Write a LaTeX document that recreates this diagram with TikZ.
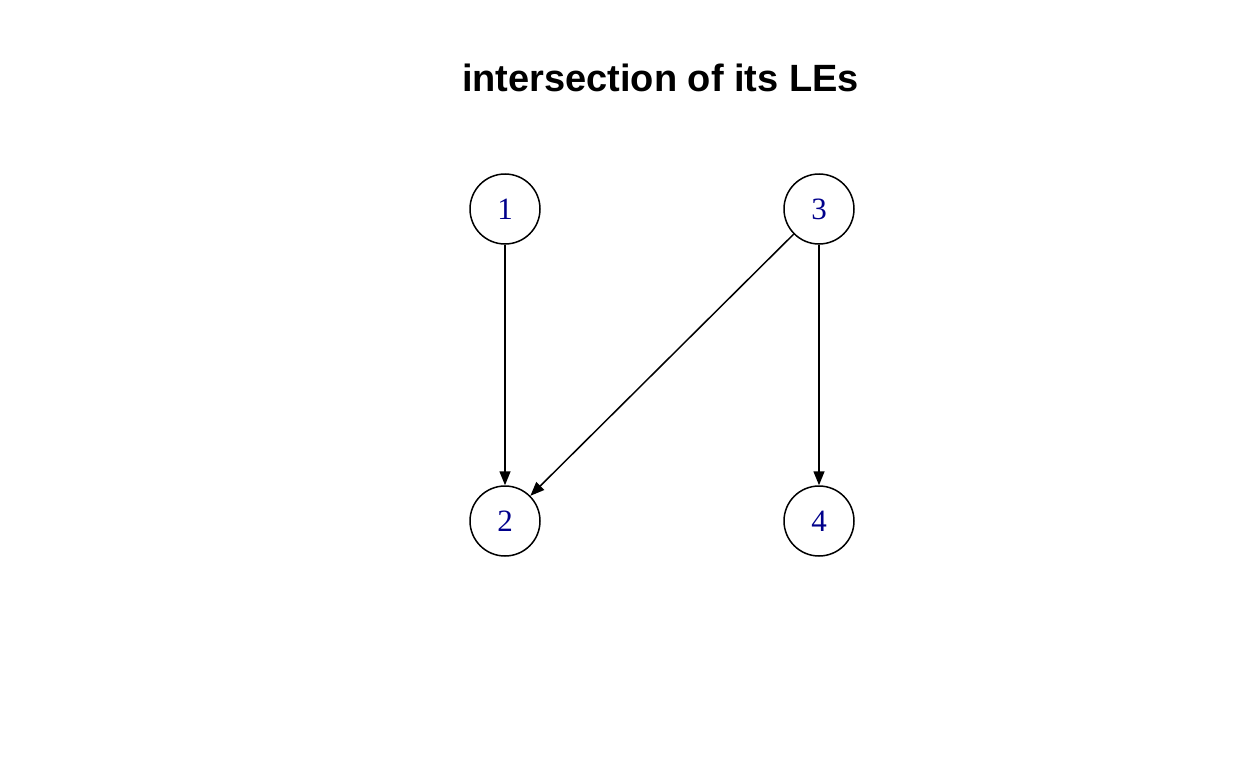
\documentclass[tikz,border=0pt]{standalone}
\usepackage{fontspec}
\setmainfont{Liberation Serif}
\newfontfamily\titlefont{Liberation Sans}
\usetikzlibrary{arrows.meta}
\definecolor{lblue}{RGB}{0,0,139}
\tikzset{
  vtx/.style={circle,draw=black,line width=1.5pt,minimum size=70pt,inner sep=0pt,
    text=lblue,font=\fontsize{31}{31}\selectfont},
  edg/.style={line width=1.5pt,-{Triangle[length=14pt,width=11pt]}}
}
\begin{document}
\begin{tikzpicture}[x=1pt,y=-1pt]
\useasboundingbox (0,0) rectangle (1248,768);
\node[anchor=base,font=\titlefont\bfseries\fontsize{38}{38}\selectfont] (title) at (660.5,92) {intersection of its LEs};
\node[vtx] (n1) at (505,209) {1};
\node[vtx] (n3) at (819,209) {3};
\node[vtx] (n2) at (505,521) {2};
\node[vtx] (n4) at (819,521) {4};
\draw[edg] (n1) -- (n2);
\draw[edg] (n3) -- (n2);
\draw[edg] (n3) -- (n4);
\end{tikzpicture}
\end{document}
